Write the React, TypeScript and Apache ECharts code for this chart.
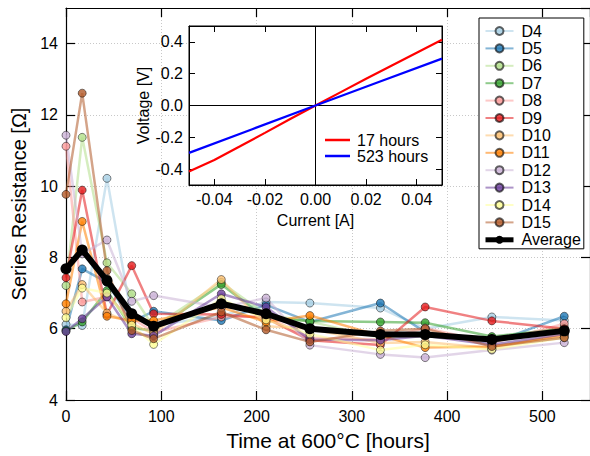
import React, { useEffect, useRef } from 'react';
import * as echarts from 'echarts';

const times = [0, 17, 43, 69, 92, 163, 210, 256, 330, 377, 447, 523];
const deviceNames = ['D4', 'D5', 'D6', 'D7', 'D8', 'D9', 'D10', 'D11', 'D12', 'D13', 'D14', 'D15'];
const deviceColors = ['#a6cee3', '#1f78b4', '#b2df8a', '#33a02c', '#fb9a99', '#e31a1c', '#fdbf6f', '#ff7f00', '#cab2d6', '#6a3d9a', '#ffff99', '#b15928'];

const D4 = [6.12, 6.09, 10.22, 6.3, 6.1, 6.35, 6.75, 6.72, 6.58, 6.0, 6.33, 6.23];
const D5 = [5.97, 7.68, 7.3, 6.2, 6.49, 6.23, 6.67, 6.19, 6.72, 5.9, 5.6, 6.35];
const D6 = [7.21, 11.37, 7.85, 6.98, 6.05, 7.3, 6.4, 6.2, 5.75, 5.85, 5.7, 6.05];
const D7 = [5.94, 6.19, 7.07, 6.02, 5.95, 7.24, 6.3, 6.22, 6.19, 6.17, 5.78, 6.0];
const D8 = [11.12, 6.75, 6.9, 6.3, 5.9, 6.33, 6.35, 5.75, 5.7, 6.02, 5.6, 6.14];
const D9 = [7.43, 9.89, 6.4, 7.77, 6.42, 6.4, 6.3, 5.68, 5.54, 6.61, 6.22, 6.0];
const D10 = [6.49, 7.24, 6.44, 6.15, 5.85, 7.38, 6.07, 6.0, 5.6, 5.63, 5.45, 5.85];
const D11 = [6.7, 9.01, 6.35, 6.23, 6.23, 6.6, 6.19, 6.37, 5.8, 5.47, 5.5, 5.8];
const D12 = [11.43, 8.1, 8.49, 6.77, 6.93, 6.6, 6.86, 5.54, 5.28, 5.19, 5.4, 5.61];
const D13 = [5.92, 6.28, 6.89, 5.86, 5.8, 6.98, 6.61, 5.7, 5.68, 5.8, 5.55, 5.85];
const D14 = [6.31, 7.14, 7.0, 6.1, 5.56, 6.84, 6.25, 5.85, 5.4, 5.55, 5.42, 5.75];
const D15 = [9.77, 12.61, 7.63, 5.95, 5.72, 6.47, 5.97, 5.63, 5.94, 6.0, 5.5, 5.75];
const average = [7.68, 8.21, 7.35, 6.42, 6.07, 6.7, 6.42, 6.0, 5.84, 5.84, 5.7, 5.94];
const deviceValues = [D4, D5, D6, D7, D8, D9, D10, D11, D12, D13, D14, D15];

const xTicksMain = { min: 0, max: 550, interval: 100 };
const yTicksMain = { min: 4, max: 15, interval: 2 };

const ivCurrent17 = [-0.05, -0.04, -0.03, -0.02, -0.01, 0, 0.01, 0.02, 0.03, 0.04, 0.05];
const ivVoltage17 = [-0.415, -0.343, -0.258, -0.172, -0.085, 0, 0.084, 0.168, 0.25, 0.332, 0.413];
const ivCurrent523 = [-0.05, -0.025, 0, 0.025, 0.05];
const ivVoltage523 = [-0.298, -0.149, 0, 0.148, 0.295];
const insetXTicks = [-0.04, -0.02, 0, 0.02, 0.04];
const insetYTicks = [-0.4, -0.2, 0, 0.2, 0.4];

const FONT = 'Liberation Sans, Arial, Helvetica, sans-serif';

function hexToRgba(hex: string, a: number) {
  const n = parseInt(hex.slice(1), 16);
  return `rgba(${(n >> 16) & 255},${(n >> 8) & 255},${n & 255},${a})`;
}

export default function App() {
  const ref = useRef<HTMLDivElement>(null);
  useEffect(() => {
    document.body.style.margin = '0';
    if (!ref.current) return;
    const chart = echarts.init(ref.current, undefined, { renderer: 'svg' });

    const deviceSeries = deviceNames.map((name, i) => ({
      name,
      type: 'line',
      xAxisIndex: 0,
      yAxisIndex: 0,
      data: times.map((t, j) => [t, deviceValues[i][j]]),
      symbol: 'circle',
      symbolSize: 8,
      lineStyle: { color: hexToRgba(deviceColors[i], 0.55), width: 2.5 },
      itemStyle: { color: hexToRgba(deviceColors[i], 0.8), borderColor: 'rgba(0,0,0,0.6)', borderWidth: 0.8 },
      z: 2,
    }));

    const axisLineBlack = { show: true, onZero: false, lineStyle: { color: '#000', width: 1.2 } };
    const gridSplit = { show: true, lineStyle: { color: '#c8c8c8', type: [1, 2], width: 1 } };

    const option: any = {
      animation: false,
      textStyle: { fontFamily: FONT, color: '#000' },
      grid: [
        { left: 66, top: 8, right: -7, bottom: 56 },
        { left: 189, top: 26, width: 253, height: 159, show: true, backgroundColor: '#fff', borderColor: '#000', borderWidth: 1, z: 3 },
      ],
      xAxis: [
        {
          type: 'value', gridIndex: 0, position: 'bottom', ...xTicksMain,
          axisLine: axisLineBlack,
          axisTick: { inside: true, length: 9, lineStyle: { color: '#000', width: 1.2 } },
          axisLabel: { fontSize: 16, color: '#000', margin: 8, showMaxLabel: false, fontFamily: FONT },
          splitLine: gridSplit,
          name: 'Time at 600°C [hours]', nameLocation: 'middle', nameGap: 30,
          nameTextStyle: { fontSize: 21, color: '#000', fontFamily: FONT },
        },
        {
          type: 'value', gridIndex: 0, position: 'top', ...xTicksMain,
          axisLine: axisLineBlack,
          axisTick: { inside: true, length: 9, lineStyle: { color: '#000', width: 1.2 } },
          axisLabel: { show: false },
          splitLine: { show: false },
        },
        {
          type: 'value', gridIndex: 1, position: 'bottom', min: -0.05, max: 0.05,
          axisLine: { show: true, onZero: false, lineStyle: { color: '#000', width: 1 } },
          axisTick: { inside: true, length: 6, customValues: insetXTicks, lineStyle: { color: '#000' } },
          axisLabel: { fontSize: 16, color: '#000', margin: 6, customValues: insetXTicks, formatter: (v: number) => v.toFixed(2), fontFamily: FONT },
          splitLine: { show: false },
          name: 'Current [A]', nameLocation: 'middle', nameGap: 27,
          nameTextStyle: { fontSize: 16, color: '#000', fontFamily: FONT },
          z: 4,
        },
        {
          type: 'value', gridIndex: 1, position: 'top', min: -0.05, max: 0.05,
          axisLine: { show: true, onZero: false, lineStyle: { color: '#000', width: 1 } },
          axisTick: { inside: true, length: 6, customValues: insetXTicks, lineStyle: { color: '#000' } },
          axisLabel: { show: false },
          splitLine: { show: false },
          z: 4,
        },
      ],
      yAxis: [
        {
          type: 'value', gridIndex: 0, position: 'left', ...yTicksMain,
          axisLine: axisLineBlack,
          axisTick: { inside: true, length: 9, lineStyle: { color: '#000', width: 1.2 } },
          axisLabel: { fontSize: 16, color: '#000', margin: 8, showMaxLabel: false, fontFamily: FONT },
          splitLine: gridSplit,
          name: 'Series Resistance [Ω]', nameLocation: 'middle', nameGap: 33,
          nameTextStyle: { fontSize: 20, color: '#000', fontFamily: FONT },
        },
        {
          type: 'value', gridIndex: 0, position: 'right', ...yTicksMain,
          axisLine: axisLineBlack,
          axisTick: { inside: true, length: 9, lineStyle: { color: '#000', width: 1.2 } },
          axisLabel: { show: false },
          splitLine: { show: false },
        },
        {
          type: 'value', gridIndex: 1, position: 'left', min: -0.5, max: 0.5,
          axisLine: { show: true, onZero: false, lineStyle: { color: '#000', width: 1 } },
          axisTick: { inside: true, length: 6, customValues: insetYTicks, lineStyle: { color: '#000' } },
          axisLabel: { fontSize: 16, color: '#000', margin: 6, customValues: insetYTicks, formatter: (v: number) => v.toFixed(1), fontFamily: FONT },
          splitLine: { show: false },
          name: 'Voltage [V]', nameLocation: 'middle', nameGap: 38,
          nameTextStyle: { fontSize: 16, color: '#000', fontFamily: FONT },
          z: 4,
        },
        {
          type: 'value', gridIndex: 1, position: 'right', min: -0.5, max: 0.5,
          axisLine: { show: true, onZero: false, lineStyle: { color: '#000', width: 1 } },
          axisTick: { inside: true, length: 6, customValues: insetYTicks, lineStyle: { color: '#000' } },
          axisLabel: { show: false },
          splitLine: { show: false },
          z: 4,
        },
      ],
      legend: [
        {
          data: [...deviceNames, { name: 'Average', lineStyle: { width: 5 } }],
          orient: 'vertical', left: 479, top: 18,
          padding: [5, 3, 1, 4], itemGap: 1.4, itemWidth: 28, itemHeight: 10,
          textStyle: { fontSize: 16, lineHeight: 16, color: '#000', fontFamily: FONT, padding: [0, 0, 0, 3] },
          borderColor: '#000', borderWidth: 1, backgroundColor: '#fff',
          z: 6,
        },
        {
          data: ['17 hours', '523 hours'],
          orient: 'vertical', left: 325, top: 132,
          padding: 0, itemGap: 0, itemWidth: 25, itemHeight: 2.5,
          icon: 'rect',
          textStyle: { fontSize: 16, lineHeight: 16, color: '#000', fontFamily: FONT, padding: [0, 0, 0, 2] },
          z: 6,
        },
      ],
      series: [
        ...deviceSeries,
        {
          name: 'Average', type: 'line', xAxisIndex: 0, yAxisIndex: 0,
          data: times.map((t, j) => [t, average[j]]),
          symbol: 'circle', symbolSize: 11,
          lineStyle: { color: '#000', width: 6 },
          itemStyle: { color: '#000' },
          z: 2.5,
        },
        {
          name: '17 hours', type: 'line', xAxisIndex: 2, yAxisIndex: 2,
          data: ivCurrent17.map((c, j) => [c, ivVoltage17[j]]),
          symbol: 'none', lineStyle: { color: '#ff0000', width: 2.2 }, itemStyle: { color: '#ff0000' },
          z: 5,
          markLine: {
            silent: true, symbol: ['none', 'none'], label: { show: false },
            lineStyle: { color: '#000', width: 1, type: 'solid' },
            data: [{ xAxis: 0 }, { yAxis: 0 }],
          },
        },
        {
          name: '523 hours', type: 'line', xAxisIndex: 2, yAxisIndex: 2,
          data: ivCurrent523.map((c, j) => [c, ivVoltage523[j]]),
          symbol: 'none', lineStyle: { color: '#0000ff', width: 2.2 }, itemStyle: { color: '#0000ff' },
          z: 5,
        },
      ],
    };
    chart.setOption(option);
    return () => chart.dispose();
  }, []);
  return <div ref={ref} style={{ width: 590, height: 456 }} />;
}
